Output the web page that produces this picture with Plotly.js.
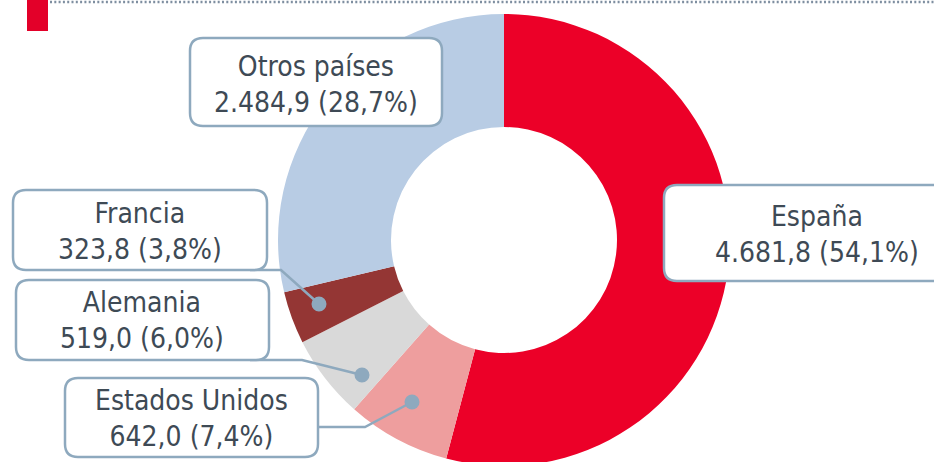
<!DOCTYPE html>
<html>
<head>
<meta charset="utf-8">
<script src="https://cdn.plot.ly/plotly-3.0.1.min.js"></script>
<style>
html,body{margin:0;padding:0;overflow:hidden;background:#fff;}
#chart{width:934px;height:470px;}
</style>
</head>
<body>
<div id="chart"></div>
<script>
// ---- data ----
const countries = ["España", "Estados Unidos", "Alemania", "Francia", "Otros países"];
const amounts = [4681.8, 642.0, 519.0, 323.8, 2484.9];
const shares = [54.1, 7.4, 6.0, 3.8, 28.7];
const sliceColors = ["#EC0028", "#EE9E9E", "#D9D9D9", "#943634", "#B8CCE4"];

// ---- helpers ----
const W = 934, H = 470;
const px = x => x / W;
const py = y => 1 - y / H;
function fmt(v, d) {
  const parts = v.toFixed(d).split(".");
  parts[0] = parts[0].replace(/\B(?=(\d{3})+(?!\d))/g, ".");
  return parts.join(",");
}
function roundRect(x0, y0, x1, y1, r) {
  const P = (x, y) => px(x) + "," + py(y);
  return "M" + P(x0 + r, y0) + " L" + P(x1 - r, y0) + " Q" + P(x1, y0) + " " + P(x1, y0 + r) +
    " L" + P(x1, y1 - r) + " Q" + P(x1, y1) + " " + P(x1 - r, y1) +
    " L" + P(x0 + r, y1) + " Q" + P(x0, y1) + " " + P(x0, y1 - r) +
    " L" + P(x0, y0 + r) + " Q" + P(x0, y0) + " " + P(x0 + r, y0) + " Z";
}

const borderCol = "#8EA9BE";
const textCol = "#3E4A55";
const fontFam = "'DejaVu Sans Condensed', 'Noto Sans', sans-serif";

// label boxes layout (pixel): [x0, y0, x1, y1, textCenterX, baseline1, baseline2]
const boxes = {
  "España": [664, 185, 975, 281, 817, 227, 262],
  "Estados Unidos": [65, 378, 318, 457, 191, 410, 446],
  "Alemania": [16, 280, 269, 360, 142, 313, 348],
  "Francia": [13, 190, 267, 270, 140, 223, 259],
  "Otros países": [190, 38, 442, 126, 316, 76, 112]
};
// leader lines (pixel polylines ending at dot)
const leaders = {
  "Francia": [[250, 270], [281, 270], [319, 304]],
  "Alemania": [[250, 360], [302, 360], [362, 375]],
  "Estados Unidos": [[318, 427], [365, 427], [412, 402]]
};

const shapes = [];
const annotations = [];

// header
shapes.push({type: "rect", xref: "paper", yref: "paper", x0: px(27), x1: px(48), y0: py(0), y1: py(31),
  fillcolor: "#E30029", line: {width: 0}, layer: "above"});
shapes.push({type: "line", xref: "paper", yref: "paper", x0: px(50), x1: px(934), y0: py(2), y1: py(2),
  line: {color: "#7E8EA0", width: 2.5, dash: "2px,2.3px"}, layer: "above"});

countries.forEach((c, i) => {
  const L = leaders[c];
  if (L) {
    let p = "M" + px(L[0][0]) + "," + py(L[0][1]);
    for (let k = 1; k < L.length; k++) p += " L" + px(L[k][0]) + "," + py(L[k][1]);
    shapes.push({type: "path", xref: "paper", yref: "paper", path: p,
      line: {color: borderCol, width: 2.5}, layer: "above"});
    const d = L[L.length - 1], r = 7.5;
    shapes.push({type: "circle", xref: "paper", yref: "paper",
      x0: px(d[0] - r), x1: px(d[0] + r), y0: py(d[1] + r), y1: py(d[1] - r),
      fillcolor: borderCol, line: {width: 0}, layer: "above"});
  }
  const b = boxes[c];
  shapes.push({type: "path", xref: "paper", yref: "paper", path: roundRect(b[0], b[1], b[2], b[3], 13),
    fillcolor: "#FFFFFF", line: {color: borderCol, width: 2.5}, layer: "above"});
  annotations.push({xref: "paper", yref: "paper", x: px(b[4]), y: py((b[5] + b[6]) / 2 - 10),
    xanchor: "center", yanchor: "middle", showarrow: false, align: "center",
    text: c + "<br>" + fmt(amounts[i], 1) + " (" + fmt(shares[i], 1) + "%)",
    font: {family: fontFam, size: 28, color: textCol}});
});

const trace = {
  type: "pie",
  labels: countries,
  values: amounts,
  marker: {colors: sliceColors, line: {width: 0}},
  hole: 0.5,
  sort: false,
  direction: "clockwise",
  rotation: 0,
  textinfo: "none",
  hoverinfo: "none",
  showlegend: false,
  domain: {x: [278 / W, 730 / W], y: [4 / H, 456 / H]}
};

Plotly.newPlot("chart", [trace], {
  width: W, height: H,
  margin: {l: 0, r: 0, t: 0, b: 0, pad: 0},
  paper_bgcolor: "#FFFFFF",
  showlegend: false,
  shapes: shapes,
  annotations: annotations
}, {displayModeBar: false, staticPlot: true});
</script>
</body>
</html>
